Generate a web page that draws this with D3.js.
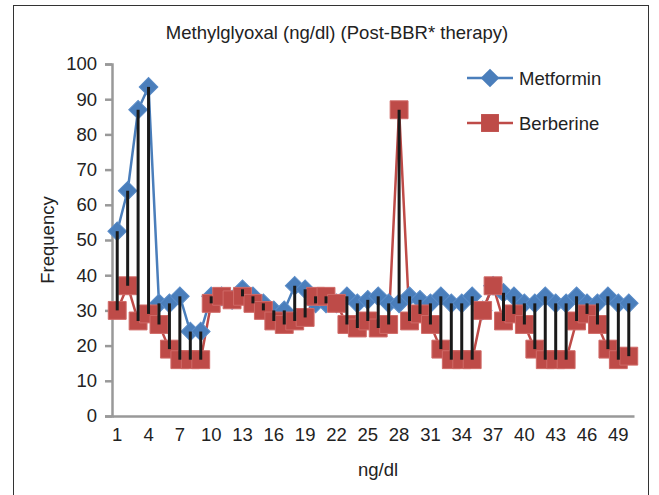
<!DOCTYPE html>
<html>
<head>
<meta charset="utf-8">
<script src="https://cdn.jsdelivr.net/npm/d3@7"></script>
<style>
	body { margin: 0; background: #fff; }
	text { font-family: "Liberation Sans", Arial, sans-serif; fill: #222; }
</style>
</head>
<body>
<svg id="chart" width="659" height="495"></svg>
<script>
// chart data
var categories = d3.range(1, 51);
var tickLabels = [1, 4, 7, 10, 13, 16, 19, 22, 25, 28, 31, 34, 37, 40, 43, 46, 49];
var yTicks = [0, 10, 20, 30, 40, 50, 60, 70, 80, 90, 100];
var metformin = [52.5, 64, 87, 93.5, 32, 32, 34, 24, 24, 34,
	34, 33, 36, 34, 32, 30, 30, 37, 36, 32,
	32, 32, 34, 32, 33, 34, 32, 32, 34, 33,
	32, 34, 32, 32, 34, 30, 37, 35, 34, 32,
	32, 34, 32, 32, 34, 32, 32, 34, 32, 32];
var berberine = [30, 37, 27, 29, 26, 19, 16, 16, 16, 32,
	34, 33, 34, 32, 30, 27, 26, 27, 28, 34,
	34, 32, 26, 25, 27, 25, 26, 87, 27, 29,
	26, 19, 16, 16, 16, 30, 37, 27, 29, 26,
	19, 16, 16, 16, 27, 29, 26, 19, 16, 17];
var seriesNames = ['Metformin', 'Berberine'];

var BLUE = '#4a7ebb', RED = '#be4b48';
var FONT = '18.5px';

var svg = d3.select('#chart');

// outer frame
svg.append('rect')
	.attr('x', 13.5).attr('y', 5.5)
	.attr('width', 635).attr('height', 500)
	.attr('fill', 'none').attr('stroke', '#333').attr('stroke-width', 1);

var plot = {left: 112, right: 634, top: 64, bottom: 416};

var x = d3.scaleBand().domain(categories).range([plot.left, plot.right]);
var y = d3.scaleLinear().domain([0, 100]).range([plot.bottom, plot.top]);
var cx = function (d) { return x(d) + x.bandwidth() / 2; };

// title
svg.append('text')
	.attr('x', 337).attr('y', 39)
	.attr('text-anchor', 'middle').attr('font-size', FONT)
	.text('Methylglyoxal (ng/dl) (Post-BBR* therapy)');

// y axis
var yAxis = svg.append('g')
	.attr('transform', 'translate(' + plot.left + ',0)')
	.call(d3.axisLeft(y).tickValues(yTicks).tickSize(7).tickPadding(8));
yAxis.select('.domain').attr('stroke', '#999').attr('stroke-width', 2.5);
yAxis.selectAll('.tick line').attr('stroke', '#999').attr('stroke-width', 2.5);
yAxis.selectAll('.tick text').attr('font-size', FONT).attr('fill', '#222')
	.attr('font-family', '"Liberation Sans", Arial, sans-serif');

// x axis
var xAxis = svg.append('g')
	.attr('transform', 'translate(0,' + plot.bottom + ')')
	.call(d3.axisBottom(x).tickValues(tickLabels).tickSize(0).tickPadding(12));
xAxis.select('.domain').attr('stroke', '#999').attr('stroke-width', 2.5);
xAxis.selectAll('.tick text').attr('font-size', FONT).attr('fill', '#222')
	.attr('font-family', '"Liberation Sans", Arial, sans-serif');

// axis titles
svg.append('text')
	.attr('transform', 'translate(54,240) rotate(-90)')
	.attr('text-anchor', 'middle').attr('font-size', FONT)
	.text('Frequency');
svg.append('text')
	.attr('x', 378).attr('y', 476)
	.attr('text-anchor', 'middle').attr('font-size', FONT)
	.text('ng/dl');

var line = function (vals) {
	return d3.line()
		.x(function (d, i) { return cx(categories[i]); })
		.y(function (d) { return y(d); })(vals);
};

svg.append('path').attr('d', line(metformin))
	.attr('fill', 'none').attr('stroke', BLUE).attr('stroke-width', 2.5);
svg.append('path').attr('d', line(berberine))
	.attr('fill', 'none').attr('stroke', RED).attr('stroke-width', 2.5);

// square rotated 45 degrees gives the diamond
var diamond = d3.symbol().type(d3.symbolSquare).size(175);
var square = d3.symbol().type(d3.symbolSquare).size(320);

svg.append('g').selectAll('path').data(metformin).enter().append('path')
	.attr('d', diamond)
	.attr('transform', function (d, i) { return 'translate(' + cx(categories[i]) + ',' + y(d) + ') rotate(45)'; })
	.attr('fill', BLUE).attr('stroke', '#5a8cc8').attr('stroke-width', 1);

svg.append('g').selectAll('path').data(berberine).enter().append('path')
	.attr('d', square)
	.attr('transform', function (d, i) { return 'translate(' + cx(categories[i]) + ',' + y(d) + ')'; })
	.attr('fill', RED).attr('stroke', '#d06a67').attr('stroke-width', 1);

// high-low lines
svg.append('g').selectAll('line').data(categories).enter().append('line')
	.attr('x1', cx).attr('x2', cx)
	.attr('y1', function (d, i) { return y(Math.max(metformin[i], berberine[i])); })
	.attr('y2', function (d, i) { return y(Math.min(metformin[i], berberine[i])); })
	.attr('stroke', '#1a1a1a').attr('stroke-width', 3);

// legend
var legend = svg.append('g');
seriesNames.forEach(function (name, i) {
	var ly = 78 + i * 45;
	var col = i == 0 ? BLUE : RED;
	legend.append('line')
		.attr('x1', 467).attr('x2', 513).attr('y1', ly).attr('y2', ly)
		.attr('stroke', col).attr('stroke-width', 2.5);
	legend.append('path')
		.attr('d', i == 0 ? diamond : square)
		.attr('transform', 'translate(490,' + ly + ')' + (i == 0 ? ' rotate(45)' : ''))
		.attr('fill', col);
	legend.append('text')
		.attr('x', 519).attr('y', ly + 7)
		.attr('font-size', FONT)
		.text(name);
});
</script>
</body>
</html>
